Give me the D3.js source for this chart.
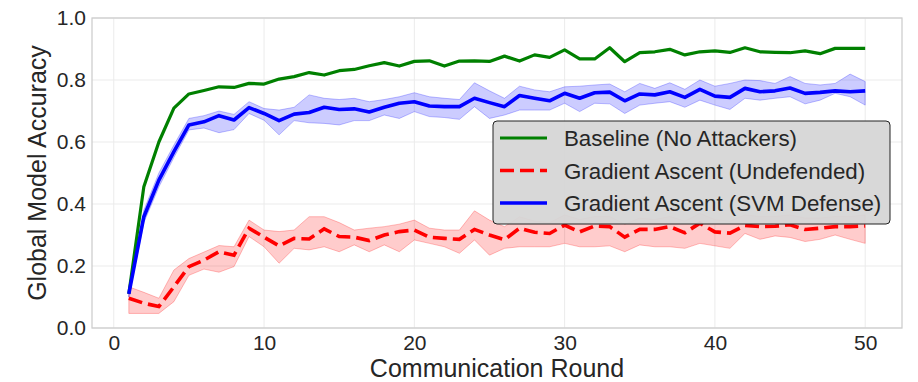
<!DOCTYPE html>
<html>
<head>
<meta charset="utf-8">
<script src="https://cdn.jsdelivr.net/npm/d3@7"></script>
<style>
  body { margin: 0; background: #fff; }
  svg { display: block; font-family: "Liberation Sans", Arial, sans-serif; }
</style>
</head>
<body>
<div id="chart"></div>
<script>
// Chart data
const rounds = d3.range(1, 51);

const baseline = [0.11, 0.456, 0.60, 0.709, 0.755, 0.766, 0.778, 0.776, 0.789, 0.787,
  0.803, 0.811, 0.824, 0.816, 0.830, 0.834, 0.846, 0.856, 0.845, 0.860,
  0.862, 0.845, 0.861, 0.862, 0.860, 0.877, 0.861, 0.881, 0.873, 0.897,
  0.868, 0.868, 0.904, 0.859, 0.888, 0.891, 0.899, 0.881, 0.891, 0.894,
  0.889, 0.904, 0.891, 0.889, 0.888, 0.894, 0.885, 0.902, 0.902, 0.902];

const undefended = [0.096, 0.08, 0.069, 0.133, 0.198, 0.219, 0.246, 0.235, 0.322, 0.293,
  0.265, 0.289, 0.287, 0.32, 0.295, 0.293, 0.282, 0.30, 0.311, 0.316,
  0.293, 0.289, 0.286, 0.318, 0.30, 0.285, 0.322, 0.309, 0.305, 0.332,
  0.31, 0.329, 0.327, 0.293, 0.318, 0.318, 0.327, 0.307, 0.338, 0.31,
  0.306, 0.331, 0.327, 0.328, 0.333, 0.318, 0.322, 0.327, 0.327, 0.329];
const undefendedLow = [0.047, 0.047, 0.047, 0.085, 0.17, 0.19, 0.18, 0.198, 0.295, 0.262,
  0.209, 0.257, 0.252, 0.262, 0.246, 0.268, 0.246, 0.268, 0.246, 0.284,
  0.273, 0.262, 0.241, 0.284, 0.235, 0.257, 0.262, 0.262, 0.262, 0.273,
  0.262, 0.262, 0.265, 0.246, 0.268, 0.262, 0.262, 0.257, 0.273, 0.265,
  0.257, 0.305, 0.286, 0.297, 0.292, 0.279, 0.286, 0.30, 0.286, 0.273];
const undefendedHigh = [0.133, 0.115, 0.096, 0.187, 0.224, 0.245, 0.266, 0.262, 0.348, 0.316,
  0.311, 0.316, 0.359, 0.359, 0.340, 0.316, 0.322, 0.327, 0.335, 0.348,
  0.322, 0.316, 0.316, 0.378, 0.348, 0.327, 0.359, 0.345, 0.34, 0.365,
  0.35, 0.36, 0.36, 0.335, 0.355, 0.35, 0.36, 0.345, 0.37, 0.35,
  0.345, 0.365, 0.36, 0.36, 0.365, 0.355, 0.355, 0.36, 0.36, 0.365];

const svmDefense = [0.11, 0.359, 0.477, 0.569, 0.655, 0.665, 0.685, 0.671, 0.711, 0.692,
  0.669, 0.690, 0.695, 0.712, 0.705, 0.707, 0.697, 0.712, 0.725, 0.730,
  0.716, 0.714, 0.714, 0.741, 0.727, 0.714, 0.750, 0.741, 0.733, 0.757,
  0.741, 0.759, 0.761, 0.733, 0.755, 0.752, 0.762, 0.744, 0.770, 0.748,
  0.744, 0.773, 0.762, 0.765, 0.774, 0.757, 0.760, 0.765, 0.762, 0.765];
const svmDefenseLow = [0.10, 0.34, 0.455, 0.55, 0.639, 0.645, 0.63, 0.64, 0.692, 0.67,
  0.623, 0.669, 0.662, 0.660, 0.655, 0.669, 0.669, 0.687, 0.676, 0.698,
  0.682, 0.679, 0.673, 0.714, 0.676, 0.687, 0.703, 0.703, 0.703, 0.725,
  0.698, 0.725, 0.723, 0.692, 0.719, 0.725, 0.730, 0.712, 0.735, 0.719,
  0.705, 0.741, 0.735, 0.741, 0.746, 0.723, 0.735, 0.757, 0.746, 0.719];
const svmDefenseHigh = [0.12, 0.38, 0.50, 0.59, 0.676, 0.685, 0.70, 0.689, 0.730, 0.708,
  0.703, 0.712, 0.752, 0.741, 0.737, 0.741, 0.730, 0.737, 0.746, 0.759,
  0.746, 0.741, 0.737, 0.791, 0.765, 0.741, 0.780, 0.768, 0.762, 0.778,
  0.780, 0.784, 0.787, 0.762, 0.789, 0.773, 0.791, 0.770, 0.800, 0.780,
  0.789, 0.800, 0.798, 0.789, 0.811, 0.789, 0.784, 0.789, 0.819, 0.795];

const xTicks = [0, 10, 20, 30, 40, 50];
const yTicks = [0.0, 0.2, 0.4, 0.6, 0.8, 1.0];

const seriesNames = [
  "Baseline (No Attackers)",
  "Gradient Ascent (Undefended)",
  "Gradient Ascent (SVM Defense)",
];

// Layout
const width = 918, height = 382;
const margin = { top: 18, right: 16, bottom: 54, left: 92 };
const textColor = "#262626";

const svg = d3.select("#chart").append("svg")
  .attr("width", width)
  .attr("height", height);

const x = d3.scaleLinear().domain([-1.45, 52.45]).range([margin.left, width - margin.right]);
const y = d3.scaleLinear().domain([0, 1]).range([height - margin.bottom, margin.top]);

// Grid
const grid = svg.append("g").attr("class", "grid");
grid.selectAll(".gx").data(xTicks).enter().append("line")
  .attr("x1", d => x(d)).attr("x2", d => x(d))
  .attr("y1", y(0)).attr("y2", y(1))
  .attr("stroke", "#ebebeb").attr("stroke-width", 1);
grid.selectAll(".gy").data(yTicks).enter().append("line")
  .attr("x1", x.range()[0]).attr("x2", x.range()[1])
  .attr("y1", d => y(d)).attr("y2", d => y(d))
  .attr("stroke", "#ebebeb").attr("stroke-width", 1);

// Axes (labels only, no tick marks)
const xAxis = svg.append("g")
  .attr("transform", `translate(0,${y(0)})`)
  .call(d3.axisBottom(x).tickValues(xTicks).tickSize(0).tickPadding(7).tickFormat(d3.format("d")));
const yAxis = svg.append("g")
  .attr("transform", `translate(${x.range()[0]},0)`)
  .call(d3.axisLeft(y).tickValues(yTicks).tickSize(0).tickPadding(6).tickFormat(d3.format(".1f")));
[xAxis, yAxis].forEach(a => {
  a.select(".domain").remove();
  a.selectAll("text").attr("fill", textColor).style("font-size", "21px")
    .style("font-family", "'Liberation Sans', Arial, sans-serif");
});

// Bands and lines
const area = (lo, hi) => d3.area()
  .x((d, i) => x(rounds[i]))
  .y0((d, i) => y(lo[i]))
  .y1((d, i) => y(hi[i]));
const line = d3.line().x((d, i) => x(rounds[i])).y(d => y(d));

const plot = svg.append("g");

plot.append("path")
  .attr("d", line(baseline))
  .attr("fill", "none").attr("stroke", "#008000").attr("stroke-width", 3.2)
  .attr("stroke-linejoin", "round");

plot.append("path")
  .attr("d", area(undefendedLow, undefendedHigh)(undefended))
  .attr("fill", "rgba(255,0,0,0.2)").attr("stroke", "rgba(255,0,0,0.25)");
plot.append("path")
  .attr("d", line(undefended))
  .attr("fill", "none").attr("stroke", "#ff0000").attr("stroke-width", 3.6)
  .attr("stroke-dasharray", "14,6");

plot.append("path")
  .attr("d", area(svmDefenseLow, svmDefenseHigh)(svmDefense))
  .attr("fill", "rgba(0,0,255,0.2)").attr("stroke", "rgba(0,0,255,0.25)");
plot.append("path")
  .attr("d", line(svmDefense))
  .attr("fill", "none").attr("stroke", "#0000ff").attr("stroke-width", 3.6)
  .attr("stroke-linejoin", "round");

// Frame
svg.append("rect")
  .attr("x", x.range()[0]).attr("y", y(1))
  .attr("width", x.range()[1] - x.range()[0])
  .attr("height", y(0) - y(1))
  .attr("fill", "none").attr("stroke", "#cccccc").attr("stroke-width", 1.25);

// Axis titles
svg.append("text")
  .attr("x", (x.range()[0] + x.range()[1]) / 2)
  .attr("y", 377)
  .attr("text-anchor", "middle")
  .attr("fill", textColor)
  .style("font-size", "25px")
  .text("Communication Round");

svg.append("text")
  .attr("transform", `translate(46,${(y(0) + y(1)) / 2}) rotate(-90)`)
  .attr("text-anchor", "middle")
  .attr("fill", textColor)
  .style("font-size", "25px")
  .text("Global Model Accuracy");

// Legend
const legend = svg.append("g").attr("transform", "translate(493,121)");
legend.append("rect")
  .attr("width", 397).attr("height", 103)
  .attr("rx", 4).attr("ry", 4)
  .attr("fill", "#d6d6d6").attr("fill-opacity", 0.95)
  .attr("stroke", "#222").attr("stroke-width", 1);

const legendData = [
  { label: seriesNames[0], color: "#008000", dash: null, w: 3.2 },
  { label: seriesNames[1], color: "#ff0000", dash: "14,6", w: 3.6 },
  { label: seriesNames[2], color: "#0000ff", dash: null, w: 3.6 },
];
const item = legend.selectAll(".legend-item").data(legendData).enter().append("g")
  .attr("class", "legend-item")
  .attr("transform", (_, i) => `translate(0,${17 + i * 32.5})`);
item.append("line")
  .attr("x1", 7).attr("x2", 54).attr("y1", 0).attr("y2", 0)
  .attr("stroke", d => d.color).attr("stroke-width", d => d.w)
  .attr("stroke-dasharray", d => d.dash);
item.append("text")
  .attr("x", 71).attr("y", 8)
  .attr("fill", textColor)
  .style("font-size", "22.3px")
  .text(d => d.label);
</script>
</body>
</html>
